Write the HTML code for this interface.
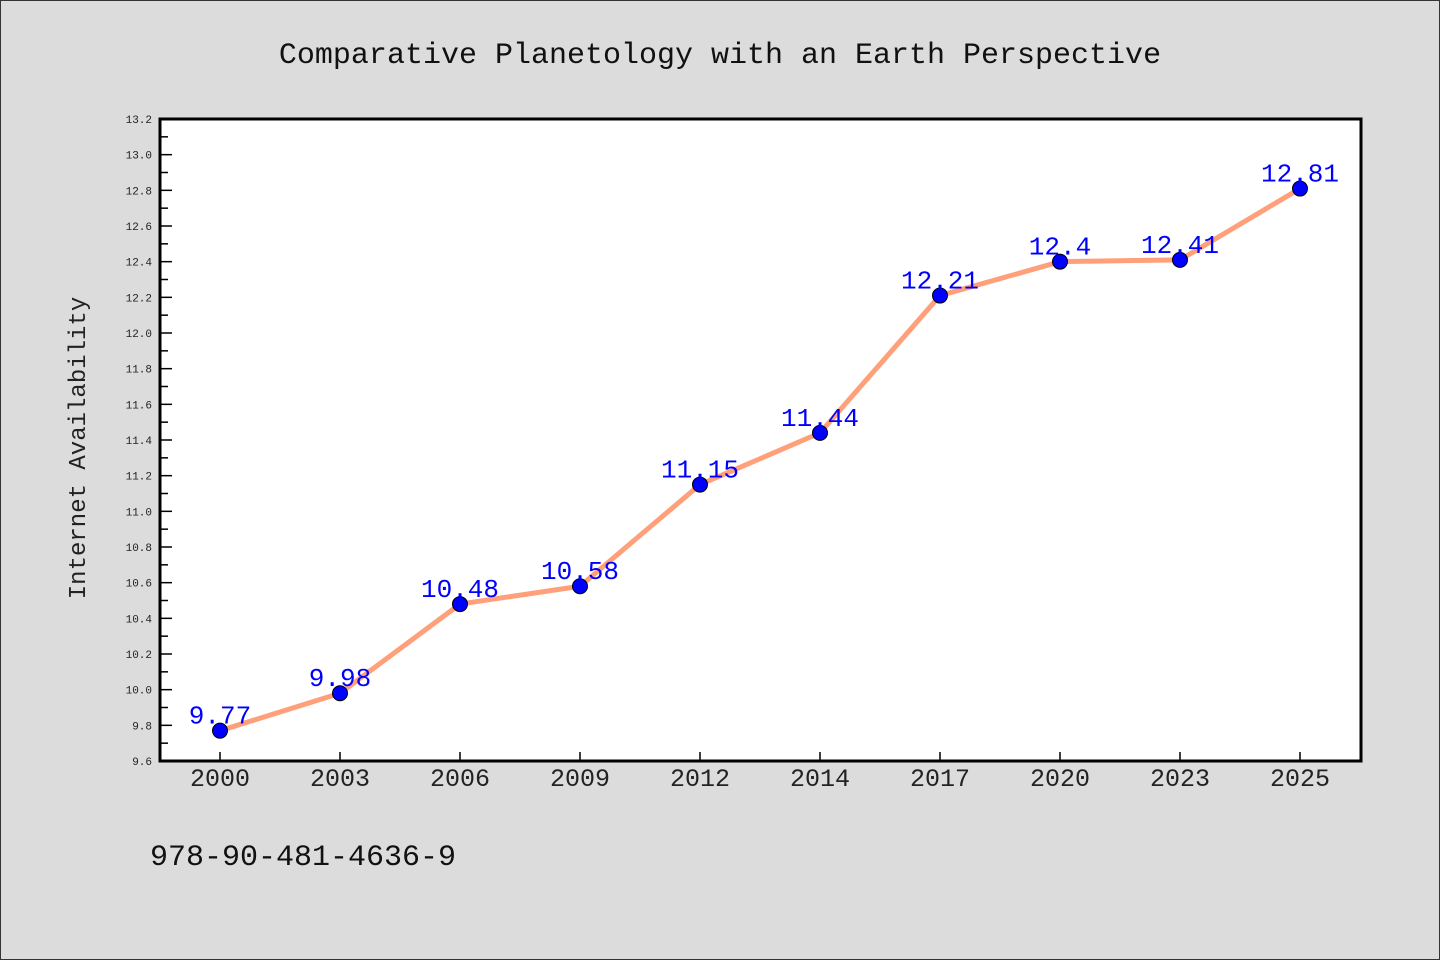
<!DOCTYPE html>
<html><head><meta charset="utf-8"><style>
html,body{margin:0;padding:0;background:#dcdcdc;}
svg{display:block;}
text{font-family:"Liberation Mono","DejaVu Sans Mono",monospace;}
</style></head><body>
<svg id="chart" width="1440" height="960">
<rect x="0.5" y="0.5" width="1439" height="959" fill="#dcdcdc" stroke="#333"/>
<text x="720" y="63" text-anchor="middle" font-size="30" fill="#111">Comparative Planetology with an Earth Perspective</text>
<rect x="160" y="119" width="1201" height="642" fill="#fff"/>
<g id="yaxis"></g>
<g id="xaxis"></g>
<g id="series"></g>
<rect x="160" y="119" width="1201" height="642" fill="none" stroke="#000" stroke-width="3"/>
<text transform="translate(85,448) rotate(-90)" text-anchor="middle" font-size="24" fill="#222">Internet Availability</text>
<text x="150" y="865" font-size="30" fill="#111">978-90-481-4636-9</text>
</svg>
<script>
const categories = ["2000","2003","2006","2009","2012","2014","2017","2020","2023","2025"];
const values = [9.77,9.98,10.48,10.58,11.15,11.44,12.21,12.4,12.41,12.81];
const valueLabels = ["9.77","9.98","10.48","10.58","11.15","11.44","12.21","12.4","12.41","12.81"];
const yTicks = ["9.6","9.8","10.0","10.2","10.4","10.6","10.8","11.0","11.2","11.4","11.6","11.8","12.0","12.2","12.4","12.6","12.8","13.0","13.2"];
const yMin = 9.6, yMax = 13.2;
const NS = "http://www.w3.org/2000/svg";
function y(v){return 761 - (v - yMin) / (yMax - yMin) * 642;}
function x(i){return 220 + i * 1080 / (categories.length - 1);}
function mk(tag, attrs, parent){const e=document.createElementNS(NS,tag);for(const k in attrs)e.setAttribute(k,attrs[k]);parent.appendChild(e);return e;}
const ya=document.getElementById('yaxis'), xa=document.getElementById('xaxis'), se=document.getElementById('series');
yTicks.forEach((t,i)=>{
  const v=parseFloat(t);
  const l=mk('line',{x1:160,x2:172,y1:y(v),y2:y(v),stroke:'#000','stroke-width':1.5},ya);
  
  
  const tx=mk('text',{x:152,y:y(v)+4,'text-anchor':'end','font-size':11,fill:'#222','font-family':'Liberation Sans, sans-serif'},ya);
  tx.textContent=t;
  
  
  if(i<yTicks.length-1){
    const m=(v+parseFloat(yTicks[i+1]))/2;
    const ml=mk('line',{x1:160,x2:168,y1:y(m),y2:y(m),stroke:'#000','stroke-width':1.5},ya);
    
    
  }
});
categories.forEach((c,i)=>{
  const l=mk('line',{x1:x(i),x2:x(i),y1:761,y2:752,stroke:'#000','stroke-width':1.5},xa);
  
  
  const t=mk('text',{x:x(i),y:786,'text-anchor':'middle','font-size':25,fill:'#222'},xa);
  t.textContent=c;
  
  
});
const pts=values.map((v,i)=>x(i)+','+y(v)).join(' ');
const pl=mk('polyline',{points:pts,fill:'none',stroke:'#ffa07a','stroke-width':5,'stroke-linejoin':'round'},se);


values.forEach((v,i)=>{
  const c=mk('circle',{cx:x(i),cy:y(v),r:7.5,fill:'#0000ff',stroke:'#000','stroke-width':1},se);
  
  
  const t=mk('text',{x:x(i),y:y(v)+6-13,'text-anchor':'middle','font-size':26,fill:'#0000ff'},se);
  t.textContent=valueLabels[i];
  
  
});
</script>
</body></html>
